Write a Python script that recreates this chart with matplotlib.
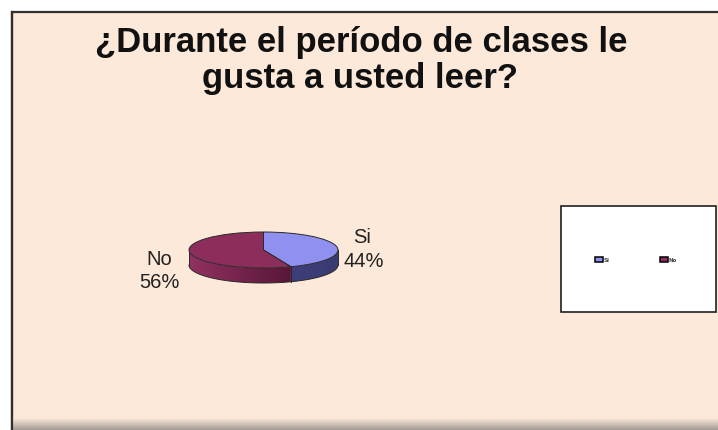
import numpy as np
import matplotlib.pyplot as plt
from matplotlib.patches import Rectangle, Polygon, Patch
from matplotlib.colors import to_rgb
from matplotlib.transforms import Affine2D

labels = ['Si', 'No']
values = [44, 56]
pct_labels = ['44%', '56%']
title_lines = ['¿Durante el período de clases le', 'gusta a usted leer?']

top_colors = ['#9090F0', '#8C2D5C']
side_light = ['#3E3E7C', '#913262']
side_dark = ['#3A3A72', '#581637']
bg = '#FDE9D9'

W, H = 718, 430
fig = plt.figure(figsize=(W / 100, H / 100), dpi=100)
fig.patch.set_facecolor('white')
ax = fig.add_axes([0, 0, 1, 1])
ax.set_xlim(0, W)
ax.set_ylim(0, H)

# chart area frame (runs off the right edge) with a gray fade at the bottom
ax.add_patch(Rectangle((12, -5), W, H - 12 + 5, facecolor=bg,
                       edgecolor='#303030', lw=1.6, zorder=1))
fade = np.linspace(0, 1, 50)[:, None, None]
fade_img = (1 - fade) * np.array(to_rgb('#A39C96')) + fade * np.array(to_rgb(bg))
ax.imshow(fade_img, extent=(13, W, 0, 12), origin='lower', aspect='auto',
          interpolation='bilinear', zorder=1.5)
ax.plot([12, 12], [0, H - 12], color='#303030', lw=1.6, zorder=2)

cx, cy, r = 263.5, 180, 74.5
tilt = 18 / 74.5
depth = 15

# top face from ax.pie, squashed into an ellipse
wedges, _ = ax.pie(values, colors=top_colors, startangle=90, counterclock=False,
                   radius=1, center=(0, 0),
                   wedgeprops=dict(edgecolor='#2A2A2A', linewidth=0.7))
to_screen = Affine2D().scale(r, r * tilt).translate(cx, cy) + ax.transData
for w in wedges:
    w.set_transform(to_screen)
    w.set_zorder(5)


def front_arc(t1, t2):
    # part of [t1, t2] that faces the viewer, i.e. inside [-180, 0] (mod 360)
    out = []
    for shift in (-360, 0, 360):
        a, b = max(t1 + shift, -180), min(t2 + shift, 0)
        if b > a:
            out.append((a, b))
    return out


# side walls, shaded left to right
for w, c0, c1 in zip(wedges, side_light, side_dark):
    for a, b in front_arc(w.theta1, w.theta2):
        th = np.radians(np.linspace(a, b, 80))
        xs = cx + r * np.cos(th)
        ys = cy + r * tilt * np.sin(th)
        pts = np.concatenate([np.column_stack([xs, ys]),
                              np.column_stack([xs[::-1], ys[::-1] - depth])])
        wall = Polygon(pts, closed=True, facecolor='none', edgecolor='none')
        ax.add_patch(wall)
        g = np.linspace(0, 1, 100)[None, :, None]
        img = (1 - g) * np.array(to_rgb(c0)) + g * np.array(to_rgb(c1))
        im = ax.imshow(img, extent=(xs.min(), xs.max(), ys.min() - depth, ys.max()),
                       origin='lower', aspect='auto', interpolation='bilinear', zorder=3)
        im.set_clip_path(wall)
        ax.plot(xs, ys - depth, color='#2A2A2A', lw=0.7, zorder=4)
        for t in (a, b):
            tr = np.radians(t)
            x0, y0 = cx + r * np.cos(tr), cy + r * tilt * np.sin(tr)
            ax.plot([x0, x0], [y0, y0 - depth], color='#2A2A2A', lw=0.7, zorder=4)

# data labels
lab_font = dict(ha='center', va='baseline', fontsize=14.5, family='Liberation Sans',
                color='#222222', zorder=6)
ax.text(362, H - 243, labels[0], **lab_font)
ax.text(364, H - 267, pct_labels[0], **lab_font)
ax.text(159, H - 265, labels[1], **lab_font)
ax.text(159.5, H - 288, pct_labels[1], **lab_font)

# title
ttl_font = dict(ha='center', va='baseline', fontsize=25, family='Liberation Sans',
                fontweight='bold', color='#111111', zorder=6)
ax.text(361.5, H - 52, title_lines[0], **ttl_font)
ax.text(360, H - 88, title_lines[1], **ttl_font)

# legend box
ax.add_patch(Rectangle((561, H - 312), 155, 106, facecolor='white',
                       edgecolor='#202020', lw=1.2, zorder=6))
handles = [Patch(facecolor=c, edgecolor='black', lw=1.1) for c in top_colors]
leg = ax.legend(handles, labels, ncol=2, frameon=False, fontsize=4,
                loc='center', bbox_to_anchor=(636, H - 260), handlelength=1.5,
                handleheight=0.9, columnspacing=9, handletextpad=0.15,
                bbox_transform=ax.transData)
for t in leg.get_texts():
    t.set_color('#444444')
    t.set_fontweight('bold')
leg.set_zorder(7)

ax.set_xlim(0, W)
ax.set_ylim(0, H)
ax.set_aspect('auto')
ax.axis('off')

fig.savefig('out.png', dpi=100, facecolor=fig.get_facecolor())
